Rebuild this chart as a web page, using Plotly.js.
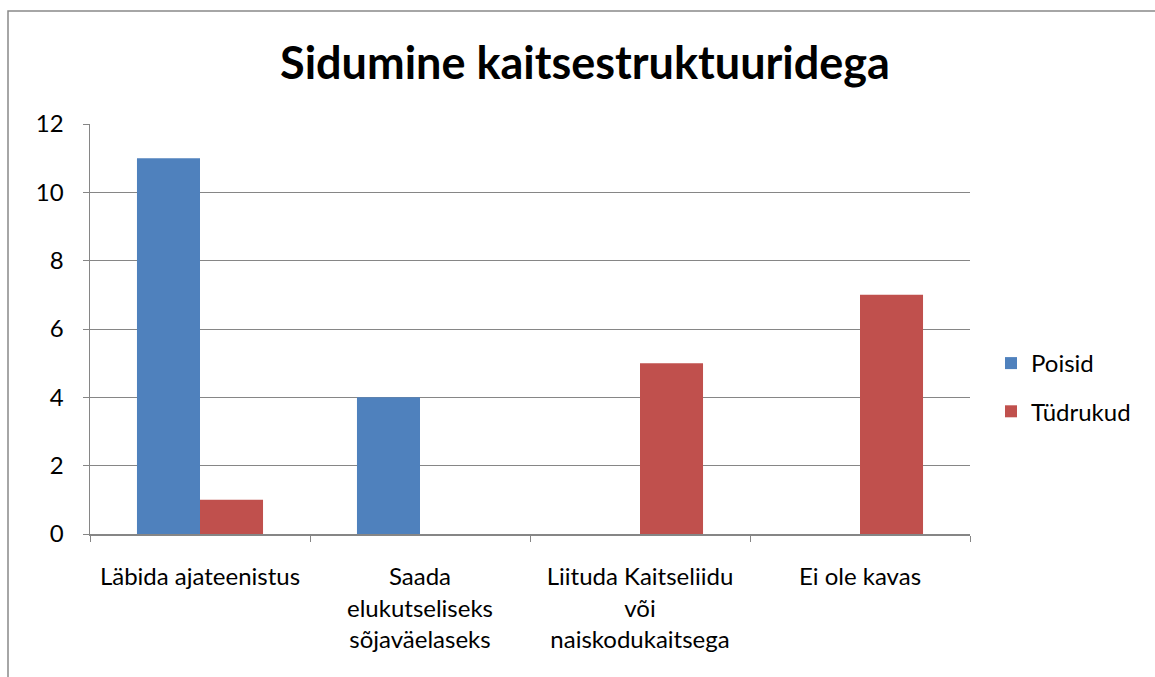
<!DOCTYPE html>
<html><head><meta charset="utf-8">
<script src="https://cdn.plot.ly/plotly-3.0.1.min.js"></script>
<style>body{margin:0;padding:0;background:#fff}#chart{width:1155px;height:677px}</style>
</head><body><div id="chart"></div>
<script>
const categories = ["Läbida ajateenistus", "Saada<br>elukutseliseks<br>sõjaväelaseks", "Liituda Kaitseliidu<br>või<br>naiskodukaitsega", "Ei ole kavas"];
const poisid = [11, 4, 0, 0];
const tudrukud = [1, 0, 5, 7];
const seriesNames = ["Poisid", "Tüdrukud"];
const yTicks = [0, 2, 4, 6, 8, 10, 12];

const FONT = "Lato, 'Open Sans', sans-serif";
const L = 90, R = 185, T = 124, B = 143, W = 1155, H = 677;
const pw = W - L - R, ph = H - T - B;

const traces = [
  {type: "bar", name: seriesNames[0], legendgroup: "a", x: categories, y: poisid, marker: {color: "#4F81BD"}},
  {type: "bar", name: seriesNames[1], legendgroup: "b", x: categories, y: tudrukud, marker: {color: "#C0504D"}}
];

const layout = {
  width: W, height: H,
  margin: {l: L, r: R, t: T, b: B, pad: 0},
  paper_bgcolor: "#fff", plot_bgcolor: "#fff",
  title: {text: "<b>Sidumine kaitsestruktuuridega</b>", font: {family: FONT, size: 45, color: "#000"}, x: 585 / W, xanchor: "center", y: 1 - 63 / H, yanchor: "middle"},
  barmode: "group", bargap: 0.427, bargroupgap: 0,
  showlegend: true,
  legend: {x: (991 - L) / pw, y: (534 - 341) / ph, xanchor: "left", yanchor: "top", font: {family: FONT, size: 24, color: "#000"}, traceorder: "grouped", tracegroupgap: 14, itemwidth: 30, bgcolor: "rgba(0,0,0,0)"},
  xaxis: {type: "category", tickson: "boundaries", ticks: "outside", ticklen: 6, tickcolor: "#868686", showline: true, linecolor: "#868686", linewidth: 1.5, showgrid: false, tickfont: {family: FONT, size: 24, color: "#000"}, ticklabelstandoff: 21, fixedrange: true},
  yaxis: {range: [0, 12], tickvals: yTicks, ticks: "outside", ticklen: 6, tickcolor: "#868686", showline: true, linecolor: "#868686", linewidth: 1.5, showgrid: true, gridcolor: "#868686", gridwidth: 1, zeroline: false, tickfont: {family: FONT, size: 24, color: "#000"}, ticklabelstandoff: 14, fixedrange: true},
  shapes: [{type: "rect", xref: "paper", yref: "paper", x0: (8 - L) / pw, x1: (W + 50 - L) / pw, y0: (H - B - (H + 50)) / ph, y1: (H - B - 11) / ph, line: {color: "#898989", width: 1.5}, fillcolor: "rgba(0,0,0,0)", layer: "below"}]
};
Plotly.newPlot("chart", traces, layout, {displayModeBar: false, staticPlot: true});
</script></body></html>
